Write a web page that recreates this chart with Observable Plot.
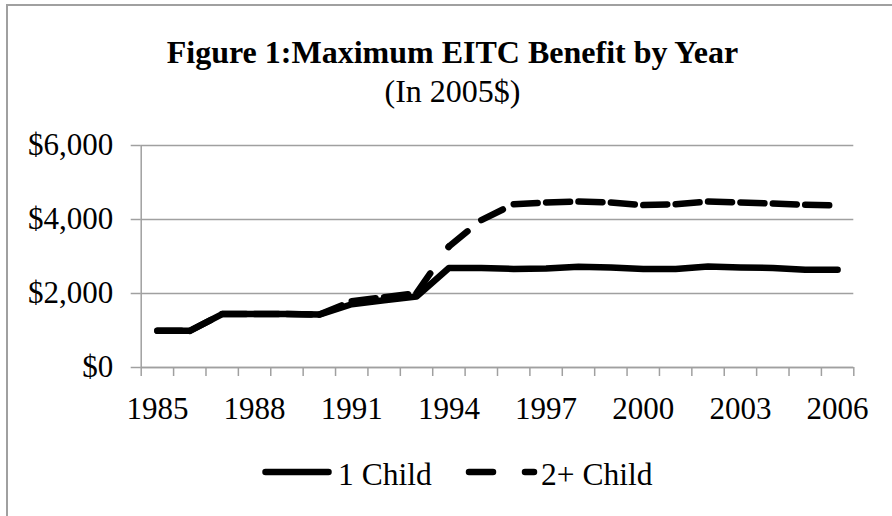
<!DOCTYPE html>
<html>
<head>
<meta charset="utf-8">
<script src="https://cdn.jsdelivr.net/npm/d3@7"></script>
<script src="https://cdn.jsdelivr.net/npm/@observablehq/plot@0.6"></script>
<style>
  html, body { margin: 0; padding: 0; background: #fff; }
  #wrap { position: relative; width: 892px; height: 516px; overflow: hidden; font-family: "Liberation Serif", "Times New Roman", serif; color: #000; }
  #frame { position: absolute; left: 6px; top: 4px; width: 900px; height: 520px; border-left: 2px solid #a0a0a0; border-top: 2px solid #a0a0a0; box-sizing: border-box; }
  #chart { position: absolute; left: 0; top: 0; }
  .title { position: absolute; left: 6px; width: 893px; text-align: center; font-size: 32px; line-height: 32px; white-space: nowrap; }
  #t1 { top: 36px; font-weight: bold; }
  #t2 { top: 75px; }
  #legend { position: absolute; left: 0; top: 450px; }
</style>
</head>
<body>
<div id="wrap">
  <div id="frame"></div>
  <div class="title" id="t1">Figure 1:Maximum EITC Benefit by Year</div>
  <div class="title" id="t2">(In 2005$)</div>
  <div id="chart"></div>
  <svg id="legend" width="892" height="50" font-family="Liberation Serif, Times New Roman, serif" font-size="31.5">
    <line x1="265.5" y1="22" x2="328.5" y2="22" stroke="#000" stroke-width="6.5" stroke-linecap="round"></line>
    <text x="338" y="35">1 Child</text>
    <line x1="469" y1="22" x2="534" y2="22" stroke="#000" stroke-width="6.5" stroke-linecap="round" stroke-dasharray="24,32"></line>
    <text x="541" y="35">2+ Child</text>
  </svg>
</div>
<script>
const years = [1985, 1986, 1987, 1988, 1989, 1990, 1991, 1992, 1993, 1994, 1995, 1996, 1997, 1998, 1999, 2000, 2001, 2002, 2003, 2004, 2005, 2006];
const oneChild = [990, 990, 1445, 1445, 1445, 1430, 1710, 1815, 1915, 2690, 2690, 2665, 2675, 2720, 2705, 2665, 2665, 2730, 2705, 2690, 2645, 2645];
const twoPlusChild = [990, 990, 1445, 1445, 1445, 1430, 1790, 1900, 2010, 3270, 3985, 4415, 4460, 4485, 4460, 4390, 4415, 4485, 4460, 4430, 4400, 4380];
const yTicks = [0, 2000, 4000, 6000];
const xTickLabels = [1985, 1988, 1991, 1994, 1997, 2000, 2003, 2006];

const rows = years.map((year, i) => ({year, one: oneChild[i], two: twoPlusChild[i]}));
const segs = rows.slice(1).map((r, i) => ({x1: rows[i].year, x2: r.year, y1: rows[i].two, y2: r.two}));
const boundaries = years.map(y => y - 0.5).concat([years[years.length - 1] + 0.5]);
const grey = "#a0a0a0";

const plot = Plot.plot({
  width: 892,
  height: 516,
  marginLeft: 140.7,
  marginRight: 38.7,
  marginTop: 145,
  marginBottom: 149,
  style: {fontFamily: "Liberation Serif, Times New Roman, serif", fontSize: "31px", background: "transparent", color: "#000", overflow: "visible"},
  x: {type: "linear", domain: [boundaries[0], boundaries[boundaries.length - 1]]},
  y: {domain: [0, 6000]},
  marks: [
    Plot.gridY(yTicks, {stroke: grey, strokeOpacity: 1, strokeWidth: 1.5}),
    Plot.ruleX([boundaries[0]], {stroke: grey, strokeWidth: 1.5}),
    Plot.ruleY([0], {stroke: grey, strokeWidth: 1.5}),
    Plot.axisY(yTicks, {tickFormat: d3.format("$,"), tickSize: 10, tickPadding: 18, stroke: grey, strokeWidth: 1.5, fill: "#000", fontSize: 31, label: null}),
    Plot.axisX(boundaries, {tickSize: 9, tickFormat: () => "", stroke: grey, strokeWidth: 1.5, label: null}),
    Plot.axisX(xTickLabels, {tickSize: 0, tickPadding: 29, tickFormat: d => String(d), fill: "#000", fontSize: 31, label: null}),
    Plot.line(rows, {x: "year", y: "one", stroke: "#000", strokeWidth: 6.5, strokeLinecap: "round", strokeLinejoin: "round"}),
    Plot.link(segs, {x1: "x1", y1: "y1", x2: "x2", y2: "y2", stroke: "#000", strokeWidth: 6.5, strokeLinecap: "round", strokeDasharray: "24,32"})
  ]
});
document.getElementById("chart").appendChild(plot);
</script>
</body>
</html>
